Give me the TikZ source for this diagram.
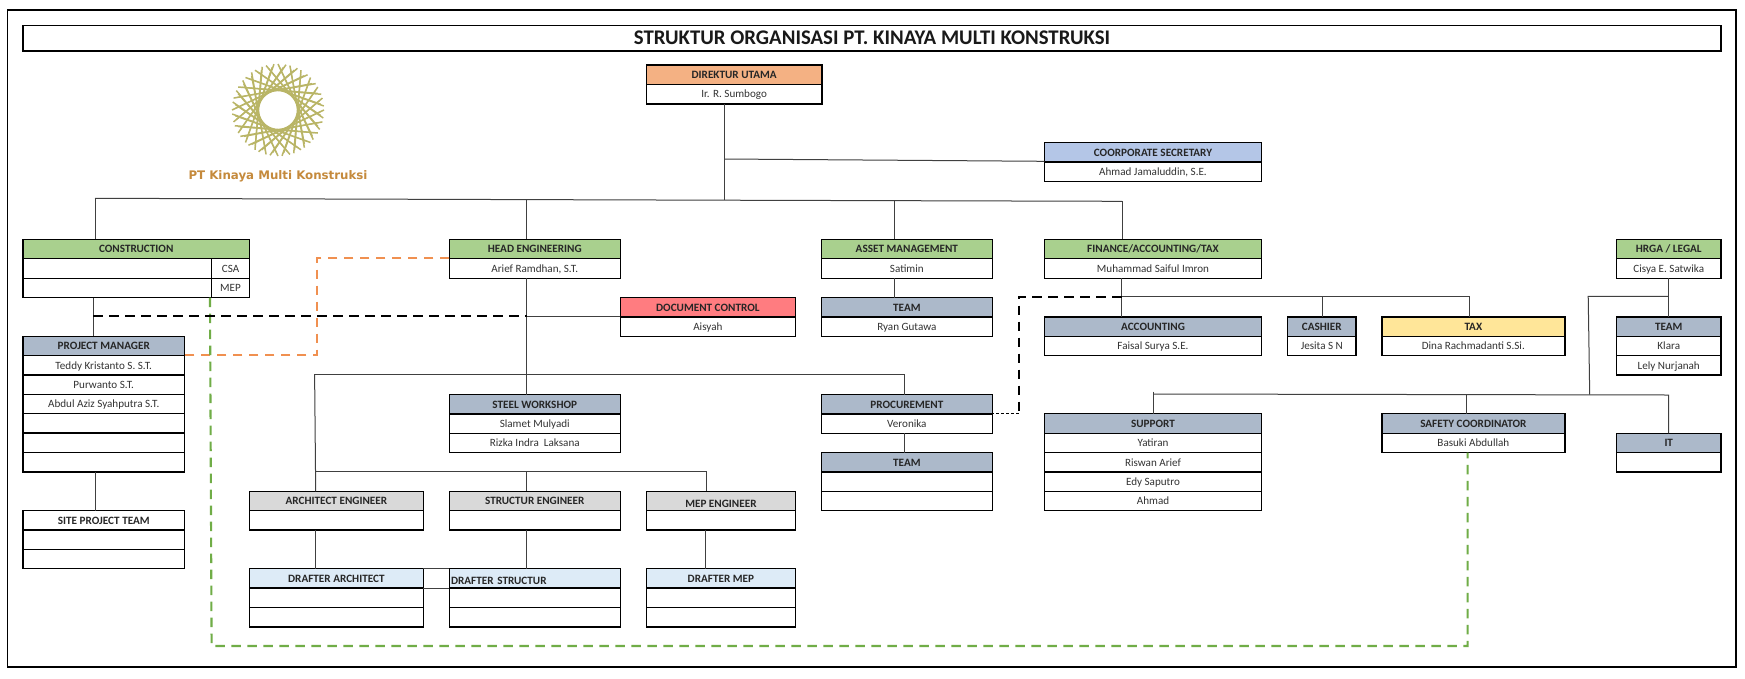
\documentclass[tikz,border=0pt]{standalone}
\usepackage{fontspec}
\setmainfont{Carlito}
\newfontfamily\logofont{DejaVu Sans}
\usetikzlibrary{calc}
\definecolor{cgreen}{HTML}{A9D08E}
\definecolor{corange}{HTML}{F4B183}
\definecolor{cblue}{HTML}{B4C6E7}
\definecolor{cslate}{HTML}{ACB9CA}
\definecolor{cred}{HTML}{FF7C80}
\definecolor{cyellow}{HTML}{FFE699}
\definecolor{cgrey}{HTML}{D9D9D9}
\definecolor{csky}{HTML}{DDEBF7}
\definecolor{dashgreen}{HTML}{70AD47}
\definecolor{dashorange}{HTML}{ED7D31}
\definecolor{logoolive}{HTML}{B9B566}
\definecolor{logotext}{HTML}{C58A3C}
\definecolor{wire}{HTML}{404040}
\definecolor{celltext}{HTML}{333333}
\tikzset{
  cellbox/.style={draw=black,line width=1.4pt,rectangle,inner sep=0pt,outer sep=0pt,
    text height=8.6pt,text depth=1.2pt,font=\fontsize{11.1}{12}\selectfont,text=celltext,align=center},
  headbox/.style={cellbox,font=\fontsize{11.2}{12}\selectfont\bfseries,text=black!85},
  hgreen/.style={headbox,fill=cgreen},
  horange/.style={headbox,fill=corange},
  hblue/.style={headbox,fill=cblue},
  hslate/.style={headbox,fill=cslate},
  hred/.style={headbox,fill=cred},
  hyellow/.style={headbox,fill=cyellow},
  hgrey/.style={headbox,fill=cgrey},
  hsky/.style={headbox,fill=csky},
  hplain/.style={headbox},
  wireline/.style={draw=wire,line width=1pt},
  dashbase/.style={line width=2.1pt,dash pattern=on 9.5pt off 6.5pt},
  dashblack/.style={dashbase,draw=black},
  dashorg/.style={dashbase,draw=dashorange!85!white},
  dashgrn/.style={dashbase,draw=dashgreen},
  logoline/.style={draw=logoolive,line width=1.5pt},
}
\newcommand{\boxcell}[7]{%
  \pgfmathsetmacro\bcw{#4-#2}\pgfmathsetmacro\bch{#5-#3}%
  \pgfmathsetmacro\bcx{(#2+#4)/2}\pgfmathsetmacro\bcy{(#3+#5)/2}%
  \node[cellbox,#6,minimum width=\bcw pt,minimum height=\bch pt] (#1) at (\bcx,\bcy) {#7};}
\begin{document}
\begin{tikzpicture}[x=1pt,y=-1pt]
\useasboundingbox (0,0) rectangle (1745,678);
\fill[white] (0,0) rectangle (1745,678);

% frame and title
\node[draw=black,line width=1.4pt,minimum width=1728.3pt,minimum height=657pt,inner sep=0pt,outer sep=0pt] (frame) at (871.85,338.5) {};
\node[draw=black,line width=1.3pt,minimum width=1698pt,minimum height=25.7pt,inner sep=0pt,outer sep=0pt,
  font=\fontsize{20.8}{22}\selectfont\bfseries,text=black!90] (title) at (872,38) {STRUKTUR ORGANISASI PT. KINAYA MULTI KONSTRUKSI};

% logo
\coordinate (logoc) at (278,110);
\foreach \i in {0,...,23}{
  \pgfmathsetmacro\aa{\i*15}
  \pgfmathsetmacro\ab{\aa+130}
  \pgfmathsetmacro\ac{\aa+7}
  \pgfmathsetmacro\ad{\aa-118}
  \draw[logoline] ($(logoc)+(\aa:46)$) -- ($(logoc)+(\ab:46)$);
  \draw[logoline,line width=1.1pt] ($(logoc)+(\ac:43)$) -- ($(logoc)+(\ad:43)$);
}
\node[font=\logofont\fontsize{11.8}{14}\selectfont\bfseries,text=logotext,inner sep=0pt] (logotxt) at (278,176.5) {PT Kinaya Multi Konstruksi};

% top
\boxcell{dirH}{646.3}{65}{822}{84.3}{horange}{DIREKTUR UTAMA}
\boxcell{dirN}{646.3}{84.3}{822}{104}{}{Ir. R. Sumbogo}
\boxcell{secH}{1044.3}{142.7}{1261.7}{162}{hblue}{COORPORATE SECRETARY}
\boxcell{secN}{1044.3}{162}{1261.7}{181.3}{}{Ahmad Jamaluddin, S.E.}

% construction
\boxcell{conH}{23}{239.3}{249.5}{258.7}{hgreen}{CONSTRUCTION}
\boxcell{conA}{23}{258.7}{211.6}{278.3}{}{}
\boxcell{conB}{211.6}{258.7}{249.5}{278.3}{}{CSA}
\boxcell{conC}{23}{278.3}{211.6}{297.7}{}{}
\boxcell{conD}{211.6}{278.3}{249.5}{297.7}{}{MEP}

% project manager
\boxcell{pmH}{23}{336.3}{184.5}{355.7}{hslate}{PROJECT MANAGER}
\boxcell{pmA}{23}{355.7}{184.5}{375}{}{Teddy Kristanto S. S.T.}
\boxcell{pmB}{23}{375}{184.5}{394.3}{}{Purwanto S.T.}
\boxcell{pmC}{23}{394.3}{184.5}{413.7}{}{Abdul Aziz Syahputra S.T.}
\boxcell{pmD}{23}{413.7}{184.5}{433}{}{}
\boxcell{pmE}{23}{433}{184.5}{452.4}{}{}
\boxcell{pmF}{23}{452.4}{184.5}{472}{}{}
\boxcell{siteH}{23}{510.7}{184.5}{530}{hplain}{SITE PROJECT TEAM}
\boxcell{siteA}{23}{530}{184.5}{549.4}{}{}
\boxcell{siteB}{23}{549.4}{184.5}{568.7}{}{}

% engineering
\boxcell{engH}{449.3}{239.3}{620.2}{258.7}{hgreen}{HEAD ENGINEERING}
\boxcell{engN}{449.3}{258.7}{620.2}{278.3}{}{Arief Ramdhan, S.T.}
\boxcell{docH}{620.2}{297.7}{795.5}{317}{hred}{DOCUMENT CONTROL}
\boxcell{docN}{620.2}{317}{795.5}{336.3}{}{Aisyah}
\boxcell{steelH}{449.3}{394.7}{620.2}{414}{hslate}{STEEL WORKSHOP}
\boxcell{steelA}{449.3}{414}{620.2}{433.3}{}{Slamet Mulyadi}
\boxcell{steelB}{449.3}{433.3}{620.2}{452.7}{}{Rizka Indra\ \ Laksana}
\boxcell{archH}{249.5}{491.3}{423.3}{510.7}{hgrey}{ARCHITECT ENGINEER}
\boxcell{archN}{249.5}{510.7}{423.3}{530}{}{}
\boxcell{strH}{449.3}{491.3}{620.2}{510.7}{hgrey}{STRUCTUR ENGINEER}
\boxcell{strN}{449.3}{510.7}{620.2}{530}{}{}
\boxcell{mepH}{646.3}{491.3}{795.5}{510.7}{hgrey}{\raisebox{-2.5pt}{MEP ENGINEER}}
\boxcell{mepN}{646.3}{510.7}{795.5}{530}{}{}
\boxcell{darH}{249.5}{568.7}{423.3}{588}{hsky}{DRAFTER ARCHITECT}
\boxcell{darA}{249.5}{588}{423.3}{607.4}{}{}
\boxcell{darB}{249.5}{607.4}{423.3}{627}{}{}
\boxcell{dstH}{449.3}{568.7}{620.2}{588}{hsky,text width=167.5pt,align=left}{\raisebox{-2pt}{DRAFTER STRUCTUR}}
\boxcell{dstA}{449.3}{588}{620.2}{607.4}{}{}
\boxcell{dstB}{449.3}{607.4}{620.2}{627}{}{}
\boxcell{dmpH}{646.3}{568.7}{795.5}{588}{hsky}{DRAFTER MEP}
\boxcell{dmpA}{646.3}{588}{795.5}{607.4}{}{}
\boxcell{dmpB}{646.3}{607.4}{795.5}{627}{}{}

% asset and procurement
\boxcell{astH}{821.5}{239.3}{992.2}{258.7}{hgreen}{ASSET MANAGEMENT}
\boxcell{astN}{821.5}{258.7}{992.2}{278.3}{}{Satimin}
\boxcell{tmaH}{821.5}{297.7}{992.2}{317}{hslate}{TEAM}
\boxcell{tmaN}{821.5}{317}{992.2}{336.3}{}{Ryan Gutawa}
\boxcell{proH}{821.5}{394.7}{992.2}{414}{hslate}{PROCUREMENT}
\boxcell{proN}{821.5}{414}{992.2}{433.3}{}{Veronika}
\boxcell{tmpH}{821.5}{452.7}{992.2}{472}{hslate}{TEAM}
\boxcell{tmpA}{821.5}{472}{992.2}{491.3}{}{}
\boxcell{tmpB}{821.5}{491.3}{992.2}{510.7}{}{}

% finance
\boxcell{finH}{1044.3}{239.3}{1261.7}{258.7}{hgreen}{FINANCE/ACCOUNTING/TAX}
\boxcell{finN}{1044.3}{258.7}{1261.7}{278.3}{}{Muhammad Saiful Imron}
\boxcell{accH}{1044.3}{317}{1261.7}{336.3}{hslate}{ACCOUNTING}
\boxcell{accN}{1044.3}{336.3}{1261.7}{355.7}{}{Faisal Surya S.E.}
\boxcell{cshH}{1287.7}{317}{1355.9}{336.3}{hslate}{CASHIER}
\boxcell{cshN}{1287.7}{336.3}{1355.9}{355.7}{}{Jesita S N}
\boxcell{taxH}{1381.9}{317}{1564.8}{336.3}{hyellow}{TAX}
\boxcell{taxN}{1381.9}{336.3}{1564.8}{355.7}{}{Dina Rachmadanti S.Si.}

% hrga
\boxcell{hrH}{1616.5}{239.3}{1721}{258.7}{hgreen}{HRGA / LEGAL}
\boxcell{hrN}{1616.5}{258.7}{1721}{278.3}{}{Cisya E. Satwika}
\boxcell{tmhH}{1616.5}{317}{1721}{336.3}{hslate}{TEAM}
\boxcell{tmhA}{1616.5}{336.3}{1721}{355.7}{}{Klara}
\boxcell{tmhB}{1616.5}{355.7}{1721}{375}{}{Lely Nurjanah}

% support row
\boxcell{supH}{1044.3}{413.7}{1261.7}{433.3}{hslate}{SUPPORT}
\boxcell{supA}{1044.3}{433.3}{1261.7}{452.7}{}{Yatiran}
\boxcell{supB}{1044.3}{452.7}{1261.7}{472}{}{Riswan Arief}
\boxcell{supC}{1044.3}{472}{1261.7}{491.3}{}{Edy Saputro}
\boxcell{supD}{1044.3}{491.3}{1261.7}{510.7}{}{Ahmad}
\boxcell{safH}{1381.9}{413.7}{1564.8}{433.3}{hslate}{SAFETY COORDINATOR}
\boxcell{safN}{1381.9}{433.3}{1564.8}{452.7}{}{Basuki Abdullah}
\boxcell{itH}{1616.5}{433.3}{1721}{452.7}{hslate}{IT}
\boxcell{itN}{1616.5}{452.7}{1721}{472}{}{}

% junctions
\coordinate (mainL) at (95,198.3);
\coordinate (mainD) at (724.3,200.2);
\coordinate (mainE) at (526.6,199.7);
\coordinate (mainA) at (894.2,200.7);
\coordinate (mainF) at (1122,201.3);
\coordinate (secJ) at (724.3,159);
\coordinate (secE) at (1044.3,161.3);
\coordinate (conJ) at (93,316.3);
\coordinate (pmJ) at (95.7,472);
\coordinate (engDoc) at (526.6,316.3);
\coordinate (proL) at (314.6,374);
\coordinate (proR) at (904.6,374);
\coordinate (engPro) at (526.6,374);
\coordinate (archL) at (315.7,471.3);
\coordinate (archR) at (706.3,471.3);
\coordinate (strJ) at (526.6,471.3);
\coordinate (darJ) at (315.7,530);
\coordinate (dstJ) at (526.6,530);
\coordinate (dmpJ) at (705.6,530);
\coordinate (finJ) at (1121.6,296.7);
\coordinate (cshJ) at (1322.2,296.7);
\coordinate (taxJ) at (1469.5,296.7);
\coordinate (hrJ) at (1668.5,296.3);
\coordinate (hrL) at (1588.2,296.3);
\coordinate (hrB) at (1589.7,394.7);
\coordinate (supJ) at (1153.4,394);
\coordinate (safJ) at (1466,394.3);
\coordinate (itJ) at (1668.5,395);
\coordinate (blkC) at (1018.6,296.7);
\coordinate (blkD) at (1018.6,413);
\coordinate (orgA) at (317.3,257.7);
\coordinate (orgB) at (317.3,354.7);
\coordinate (grnA) at (210,297.7);
\coordinate (grnB) at (211.6,646);
\coordinate (grnC) at (1467.6,646);

% connectors
\draw[wireline] (mainD |- dirN.south) -- (mainD);
\draw[wireline] (secJ) -- (secE);
\draw[wireline] (mainL) -- (mainD) -- (mainF);
\draw[wireline] (mainL) -- (mainL |- conH.north);
\draw[wireline] (mainE) -- (mainE |- engH.north);
\draw[wireline] (mainA) -- (mainA |- astH.north);
\draw[wireline] (mainF) -- (mainF |- finH.north);
\draw[wireline] (conJ |- conC.south) -- (conJ |- pmH.north);
\draw[wireline] (pmJ) -- (pmJ |- siteH.north);
\draw[wireline] (engDoc |- engN.south) -- (engDoc |- steelH.north);
\draw[wireline] (engDoc) -- (engDoc -| docH.west);
\draw[wireline] (proL) -- (proR) -- (proR |- proH.north);
\draw[wireline] (proL) -- (archL |- archH.north);
\draw[wireline] (archL) -- (archR) -- (archR |- mepH.north);
\draw[wireline] (strJ) -- (strJ |- strH.north);
\draw[wireline] (darJ) -- (darJ |- darH.north);
\draw[wireline] (dstJ) -- (dstJ |- dstH.north);
\draw[wireline] (dmpJ) -- (dmpJ |- dmpH.north);
\draw[wireline] (darH.north east) -- (dstH.north west);
\draw[wireline] (darH.south east) -- (dstH.south west);
\draw[wireline] (mainA |- astN.south) -- (mainA |- tmaH.north);
\draw[wireline] (proR |- proN.south) -- (proR |- tmpH.north);
\draw[wireline] (finJ |- finN.south) -- (finJ |- accH.north);
\draw[wireline] (finJ) -- (taxJ) -- (taxJ |- taxH.north);
\draw[wireline] (cshJ) -- (cshJ |- cshH.north);
\draw[wireline] (hrJ |- hrN.south) -- (hrJ |- tmhH.north);
\draw[wireline] (hrJ) -- (hrL) -- (hrB);
\draw[wireline] (supJ) -- (itJ) -- (itJ |- itH.north);
\draw[wireline] (1153.4,391.5) -- (supJ |- supH.north);
\draw[wireline] (safJ) -- (safJ |- safH.north);

% dashed relations
\draw[dashorg] (engH.south west) ++(0,-1) -- (orgA) -- (orgB) -- (orgB -| pmH.east);
\draw[dashgrn] (grnA |- conC.south) -- (grnB) -- (grnC) -- (grnC |- safN.south);
\draw[dashblack] (conJ) -- (engDoc);
\draw[dashblack] (finJ) -- (blkC) -- (blkD);
\draw[draw=black,line width=0.9pt,dash pattern=on 2.5pt off 2.5pt] (blkD) -- (blkD -| proH.east);
\end{tikzpicture}
\end{document}
